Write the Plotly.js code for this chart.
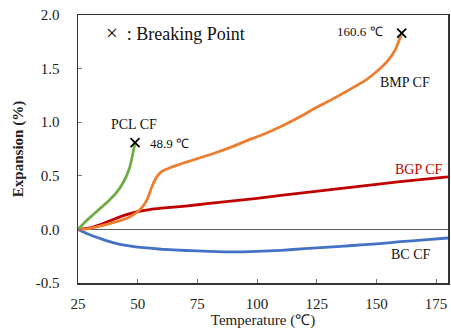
<!DOCTYPE html>
<html><head><meta charset="utf-8">
<script src="https://cdn.plot.ly/plotly-3.0.1.min.js"></script>
<style>html,body{margin:0;padding:0;background:#fff}#c{width:451px;height:331px}</style>
</head><body><div id="c"></div>
<script>
var pclX = [25, 28, 32, 35, 38, 41, 44, 46.7, 48.9];
var pclY = [0, 0.07, 0.15, 0.21, 0.27, 0.34, 0.44, 0.58, 0.81];

var bmpX = [25, 30, 35, 40, 45, 48, 50, 52, 54, 56, 58, 60, 63, 66, 70, 75, 82, 90, 96, 102, 110, 118, 125, 132, 140, 146, 150, 155, 158, 160.6];
var bmpY = [0, 0.01, 0.035, 0.065, 0.10, 0.135, 0.165, 0.21, 0.28, 0.40, 0.49, 0.54, 0.57, 0.595, 0.625, 0.66, 0.71, 0.775, 0.83, 0.88, 0.96, 1.05, 1.14, 1.22, 1.32, 1.40, 1.47, 1.58, 1.68, 1.83];

var bgpX = [25, 30, 35, 40, 45, 50, 55, 60, 70, 80, 100, 120, 140, 160, 180];
var bgpY = [0, 0.015, 0.05, 0.095, 0.135, 0.165, 0.185, 0.198, 0.218, 0.242, 0.29, 0.343, 0.395, 0.445, 0.49];

var bcX = [25, 30, 35, 40, 45, 50, 60, 70, 80, 90, 100, 110, 120, 130, 140, 150, 160, 170, 180];
var bcY = [0, -0.05, -0.09, -0.125, -0.15, -0.165, -0.185, -0.197, -0.205, -0.21, -0.205, -0.195, -0.18, -0.165, -0.15, -0.135, -0.115, -0.098, -0.08];

var breakX = [48.9, 160.6];
var breakY = [0.81, 1.83];

var xTicks = [25, 50, 75, 100, 125, 150, 175];
var yTicks = [-0.5, 0, 0.5, 1.0, 1.5, 2.0];
var yTickText = ['-0.5', '0.0', '0.5', '1.0', '1.5', '2.0'];

var F = 'Liberation Serif';
function ln(x, y, c) {
  return {x: x, y: y, mode: 'lines', line: {color: c, width: 2.8, shape: 'spline', smoothing: 0.5}, hoverinfo: 'skip'};
}
var data = [
  ln(bcX, bcY, '#4472C4'),
  ln(bgpX, bgpY, '#C00000'),
  ln(bmpX, bmpY, '#ED7D31'),
  ln(pclX, pclY, '#70AD47'),
  {x: breakX, y: breakY, mode: 'markers', marker: {symbol: 'x-thin', size: 9, line: {color: '#000', width: 1.8}}, hoverinfo: 'skip'}
];
function ann(x, y, t, o) {
  var a = {x: x, y: y, xref: 'x', yref: 'y', text: t, showarrow: false, font: {family: F, size: 14, color: '#111'}};
  for (var k in o) a[k] = o[k];
  return a;
}
var layout = {
  width: 451, height: 331,
  margin: {l: 78, r: 3, t: 15, b: 48},
  paper_bgcolor: '#fff', plot_bgcolor: '#fff',
  showlegend: false,
  font: {family: F, size: 15, color: '#222'},
  xaxis: {
    range: [25, 180], tickvals: xTicks, ticks: 'inside', ticklen: 4, tickcolor: '#777', tickwidth: 1,
    showgrid: false, zeroline: false, showline: true, linecolor: '#333', linewidth: 1.5, mirror: true,
    tickfont: {family: F, size: 15, color: '#222'}, ticklabelstandoff: 6,
    title: {text: 'Temperature (℃)', font: {family: F, size: 15, color: '#222'}, standoff: 4}
  },
  yaxis: {
    range: [-0.5, 2.0], tickvals: yTicks, ticktext: yTickText, ticks: 'inside', ticklen: 4, tickcolor: '#777', tickwidth: 1,
    showgrid: false, zeroline: true, zerolinecolor: '#595959', zerolinewidth: 1.5,
    showline: true, linecolor: '#333', linewidth: 1.5, mirror: true,
    tickfont: {family: F, size: 15, color: '#222'}, ticklabelstandoff: 14,
    title: {text: '<b>Expansion (%)</b>', font: {family: F, size: 15, color: '#222'}, standoff: 8}
  },
  annotations: [
    ann(36, 1.83, '<span style="font-size:21px">×</span>  : Breaking Point', {xanchor: 'left', font: {family: F, size: 18, color: '#111'}}),
    ann(48.4, 0.98, 'PCL CF'),
    ann(54.2, 0.80, '48.9 ℃', {xanchor: 'left', font: {family: F, size: 13, color: '#111'}}),
    ann(153.6, 1.85, '160.6 ℃', {xanchor: 'right', font: {family: F, size: 13, color: '#111'}}),
    ann(162, 1.375, 'BMP CF'),
    ann(167.8, 0.555, 'BGP CF', {font: {family: F, size: 14, color: '#C00000'}}),
    ann(164.5, -0.23, 'BC CF')
  ]
};
Plotly.newPlot('c', data, layout, {staticPlot: true, displayModeBar: false});
</script></body></html>
